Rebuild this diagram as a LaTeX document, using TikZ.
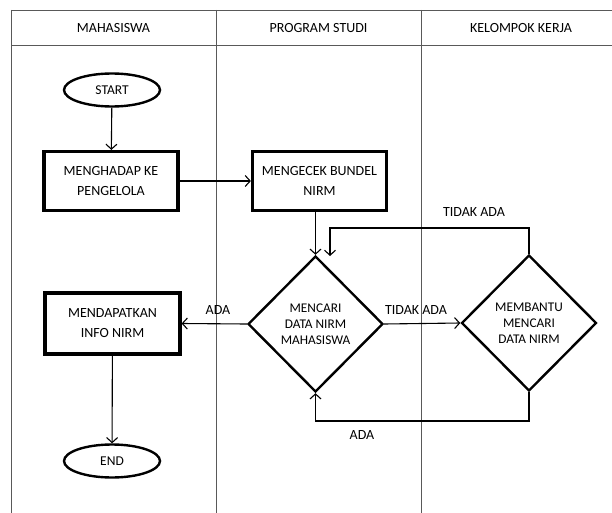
\documentclass[tikz,border=0pt]{standalone}
\usepackage{fontspec}
\setmainfont{Carlito}
\usetikzlibrary{shapes.geometric,arrows.meta}
\begin{document}
\begin{tikzpicture}[x=1pt,y=-1pt,
  grid/.style={draw=black!65,line width=0.9pt},
  proc/.style={draw,line width=3.2pt,minimum width=134pt,minimum height=59pt,align=center,font=\fontsize{14}{20}\selectfont,inner sep=0pt},
  term/.style={draw,ellipse,line width=2.4pt,minimum width=96pt,minimum height=33pt,inner sep=0pt,font=\fontsize{13.5}{15}\selectfont},
  dec/.style={draw,diamond,line width=2.4pt,minimum width=135pt,minimum height=136pt,inner sep=0pt,align=center,font=\fontsize{13.3}{16}\selectfont},
  arr/.style={line width=1.1pt,-{Straight Barb[length=5pt,width=11pt]}},
  lbl/.style={font=\fontsize{14}{15}\selectfont,inner sep=0pt},
  hdr/.style={font=\fontsize{14}{15}\selectfont,inner sep=0pt}]
\useasboundingbox (0,0) rectangle (612,513);
\fill[white] (0,0) rectangle (612,513);
% swimlane grid
\draw[grid] (11,10) -- (612,10);
\draw[grid] (11,45) -- (612,45);
\draw[grid] (11,10) -- (11,513);
\draw[grid] (216,10) -- (216,513);
\draw[grid] (421,10) -- (421,513);
\node[hdr] (h1) at (113.5,28) {MAHASISWA};
\node[hdr] (h2) at (318.5,28) {PROGRAM STUDI};
\node[hdr] (h3) at (521,28) {KELOMPOK KERJA};
% nodes
\node[term] (start) at (112,90) {START};
\node[proc] (b1) at (111,181) {MENGHADAP KE\\PENGELOLA};
\node[proc] (b2) at (319.5,181) {MENGECEK BUNDEL\\NIRM};
\node[dec] (d1) at (315.5,324) {MENCARI\\DATA NIRM\\MAHASISWA};
\node[dec] (d2) at (529,323) {MEMBANTU\\MENCARI\\DATA NIRM};
\node[proc,minimum width=135pt,minimum height=61pt] (b3) at (112.5,323.5) {MENDAPATKAN\\INFO NIRM};
\node[term] (end) at (112,461) {END};
% connectors
\draw[arr] (start) -- (b1);
\draw[arr] (b1.east) -- (b2.west);
\draw[arr] (d1.north |- b2.south) -- (d1.north);
\draw[arr] (d1.west) -- (b3.east);
\draw[arr] (d1.east) -- (d2.west);
\draw[arr] (b3) -- (end);
\coordinate (ltop) at (330,228);
\coordinate (lin) at (330,256);
\draw[arr] (d2.north) |- (ltop) -- (lin);
\coordinate (lbot) at (529,421);
\draw[arr] (d2.south) -- (lbot) -| (d1.south);
% labels
\node[lbl] (l1) at (218,310) {ADA};
\node[lbl] (l2) at (416,310) {TIDAK ADA};
\node[lbl] (l3) at (474,212) {TIDAK ADA};
\node[lbl] (l4) at (362,435) {ADA};
\end{tikzpicture}
\end{document}
